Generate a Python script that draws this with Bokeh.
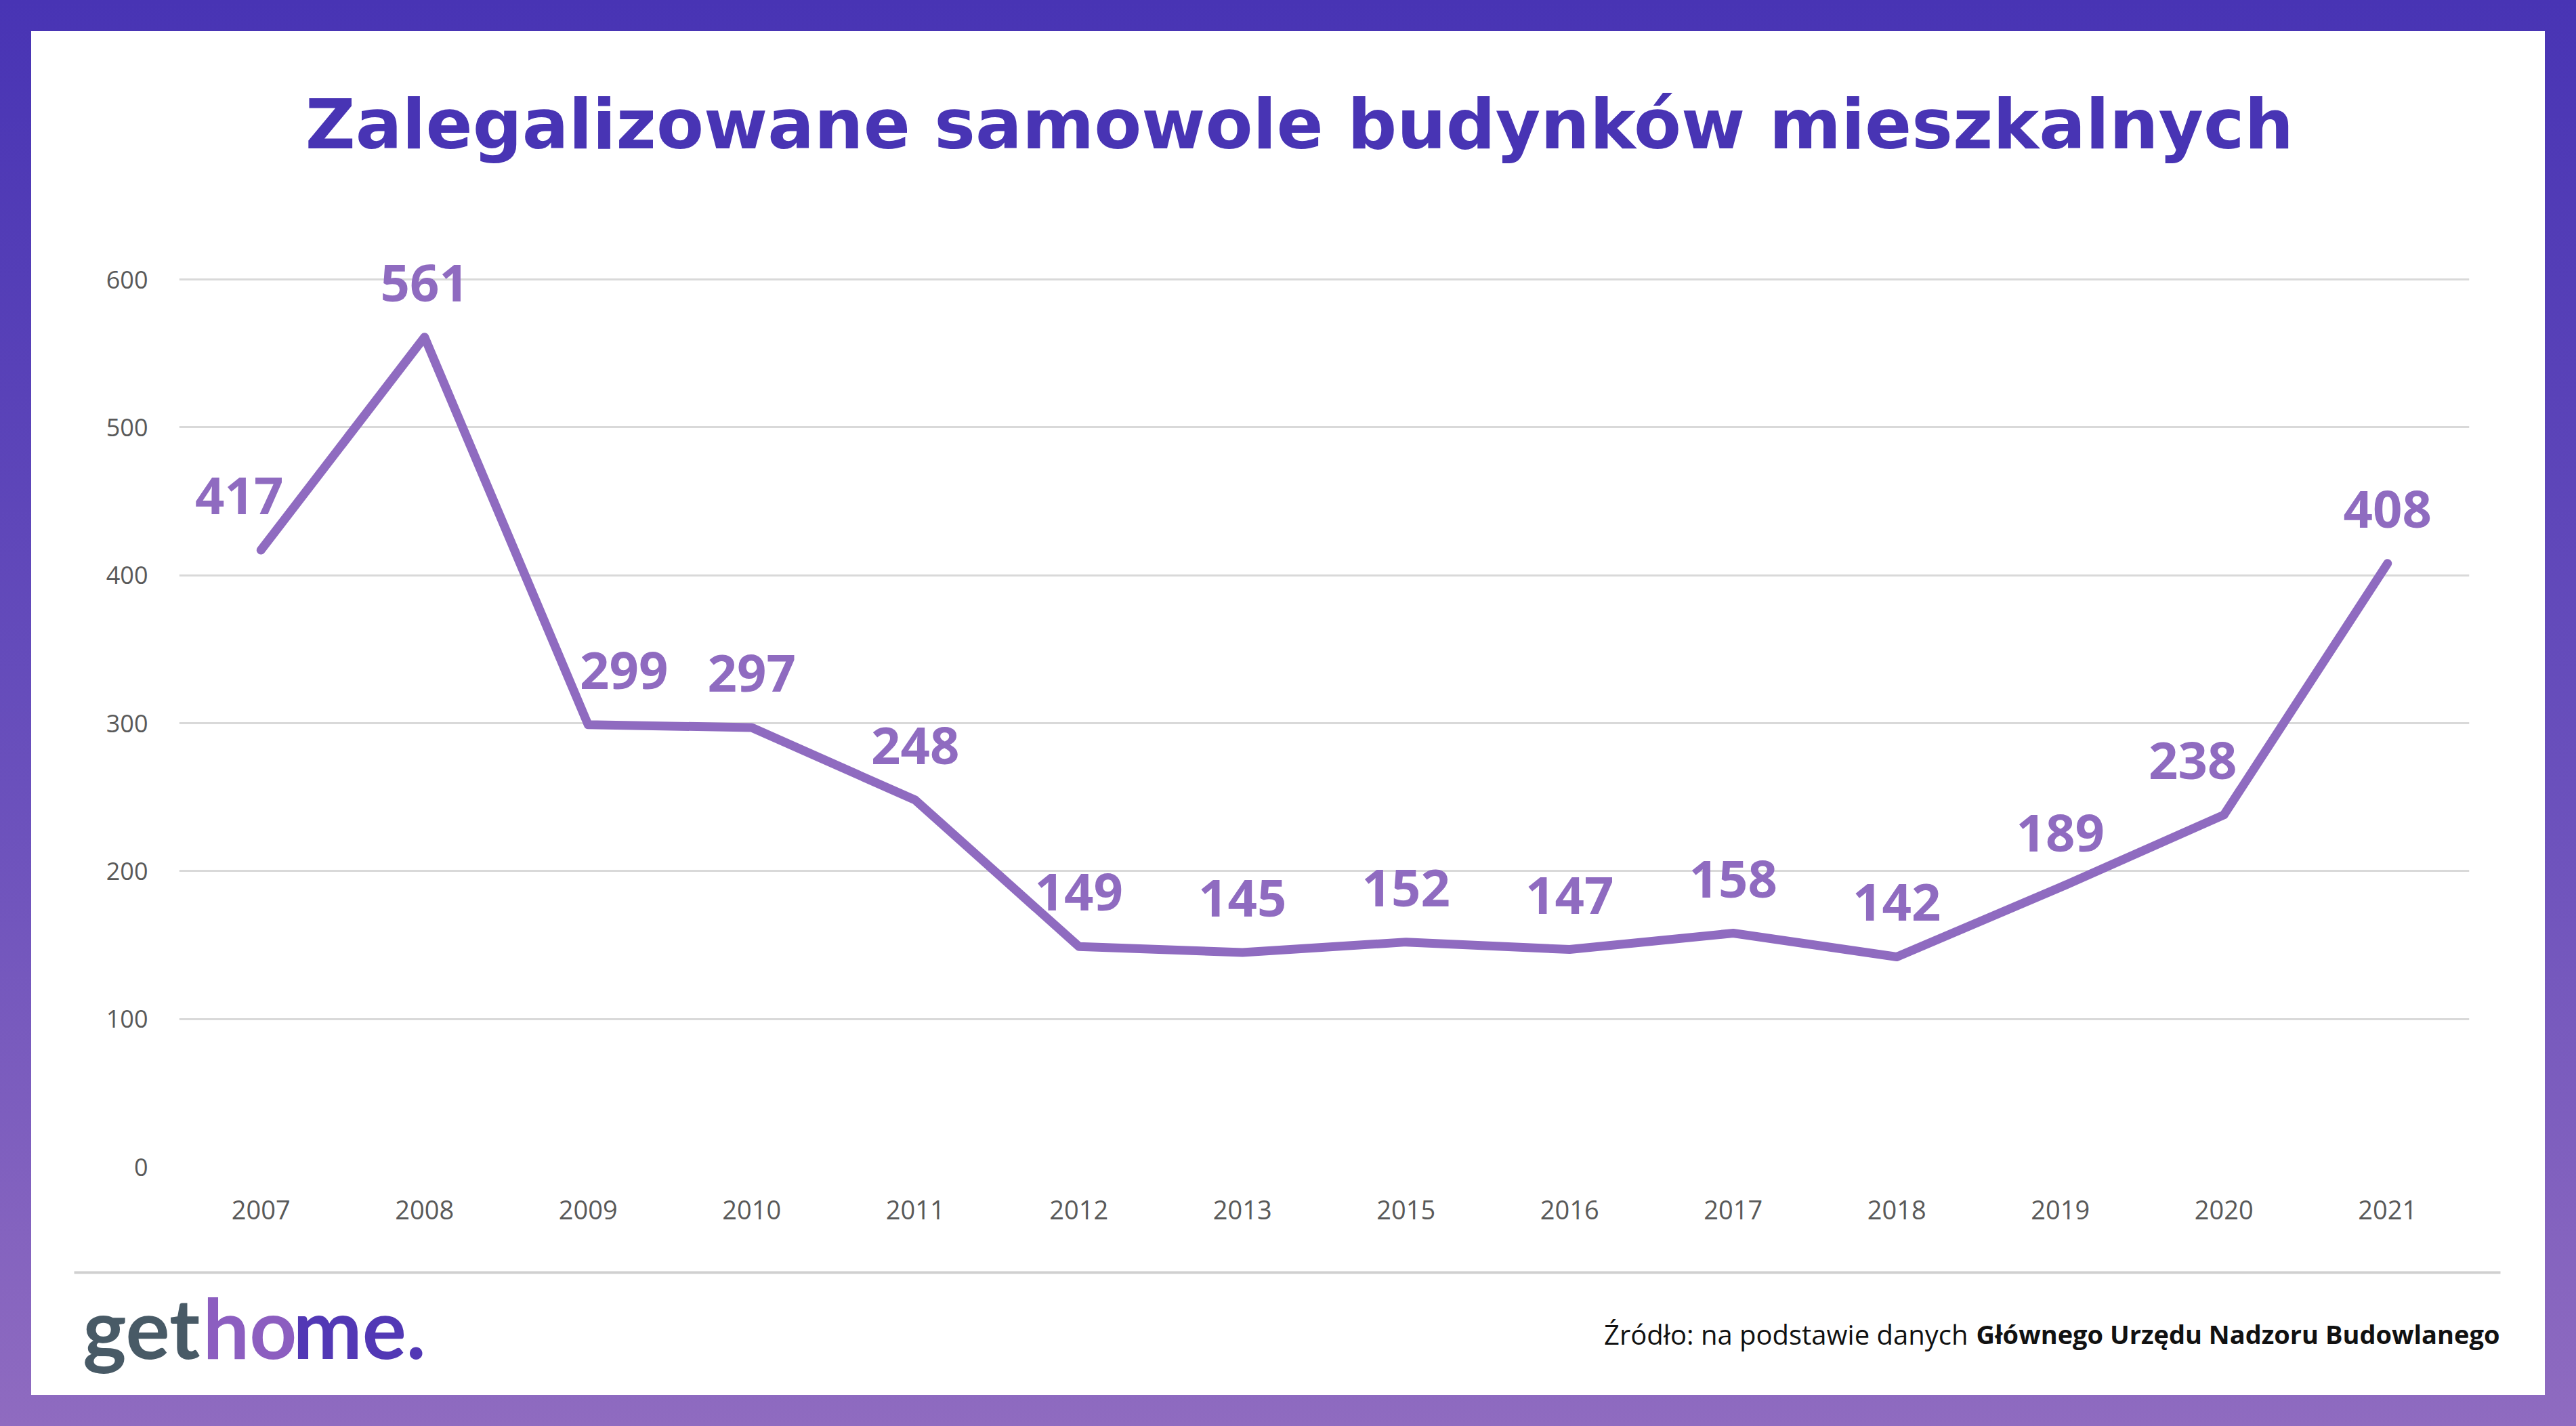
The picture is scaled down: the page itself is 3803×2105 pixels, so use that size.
from bokeh.plotting import figure
from bokeh.models import Label, BoxAnnotation, FixedTicker, ColumnDataSource, Range1d
from bokeh.layouts import column
from bokeh.embed import file_html
from bokeh.resources import INLINE
from bokeh.core.properties import value

# ---- data ----
years = ["2007", "2008", "2009", "2010", "2011", "2012", "2013", "2015",
         "2016", "2017", "2018", "2019", "2020", "2021"]
counts = [417, 561, 299, 297, 248, 149, 145, 152, 147, 158, 142, 189, 238, 408]
y_ticks = [0, 100, 200, 300, 400, 500, 600]
title_text = "Zalegalizowane samowole budynków mieszkalnych"
source_regular = "Źródło: na podstawie danych"
source_bold = "Głównego Urzędu Nadzoru Budowlanego"

# ---- styles ----
PURPLE = "#8f6bc0"
INDIGO = "#4834b4"
GRID = "#d9d9d9"
TICK = "#595959"
W = 3711
OFF = 46                 # page offset of the white area (reference px)
T0, T1 = 46, 282         # title strip (reference y)
M0, M1 = 282, 1850       # chart strip
F0, F1 = 1850, 2059      # footer strip
BASE = 0.36              # label baseline correction (fraction of font size)
label_dx = [-32, 0, 53, 0, 0, 0, 0, 0, 0, 0, 0, 0, -46, 0]


def sx(xr):
    return xr - OFF


def blank_fig(h):
    f = figure(width=W, height=h, output_backend="svg", toolbar_location=None,
               min_border=0, x_range=Range1d(0, 1), y_range=Range1d(0, 1),
               background_fill_color="white", border_fill_color="white",
               outline_line_color=None, frame_align=False,
               styles={"background-color": "white"})
    f.axis.visible = False
    f.grid.visible = False
    return f


# ---- title strip ----
Ht = T1 - T0
pt = blank_fig(Ht)
pt.add_layout(Label(x=sx(1918), y=Ht - (220 - T0) + BASE * 102, x_units="screen", y_units="screen",
                    text=title_text, text_align="center", text_baseline="alphabetic",
                    text_font="DejaVu Sans", text_font_style="bold",
                    text_font_size="102px", text_color=INDIGO))

# ---- chart strip ----
Hm = M1 - M0
frame_h = 1722 - M0
p = figure(width=W, height=Hm, x_range=years, y_range=Range1d(0, frame_h * 600 / 1310),
           output_backend="svg", toolbar_location=None,
           min_border_left=218, min_border_right=112,
           min_border_top=0, min_border_bottom=Hm - frame_h,
           background_fill_color="white", border_fill_color="white",
           outline_line_color=None, frame_align=False,
           styles={"background-color": "white"})
p.x_range.range_padding = 0

src = ColumnDataSource(dict(x=years, y=counts, lab=[str(c) for c in counts], dx=label_dx))

p.line("x", "y", source=src, line_color=PURPLE, line_width=13,
       line_cap="round", line_join="round")
p.text("x", "y", text="lab", source=src, x_offset="dx", y_offset=-80,
       text_align="center", text_baseline="alphabetic",
       text_font=value("Open Sans"), text_font_style="bold",
       text_font_size="76px", text_color=PURPLE)

p.yaxis.ticker = FixedTicker(ticks=y_ticks)
p.yaxis.axis_line_color = None
p.yaxis.major_tick_line_color = None
p.yaxis.minor_tick_line_color = None
p.yaxis.major_label_text_font = "Open Sans"
p.yaxis.major_label_text_font_size = "36px"
p.yaxis.major_label_text_color = TICK
p.yaxis.major_label_standoff = 40

p.xaxis.axis_line_color = None
p.xaxis.major_tick_line_color = None
p.xaxis.major_label_text_font = "Open Sans"
p.xaxis.major_label_text_font_size = "38px"
p.xaxis.major_label_text_color = TICK
p.xaxis.major_label_standoff = 43

p.xgrid.grid_line_color = None
p.ygrid.grid_line_color = GRID
p.ygrid.grid_line_width = 3
p.ygrid.ticker = FixedTicker(ticks=y_ticks)

# ---- footer strip ----
Hf = F1 - F0
pf = blank_fig(Hf)


def fyf(yr, fs):
    return Hf - (yr - F0) + BASE * fs


pf.add_layout(BoxAnnotation(left=sx(109), right=sx(3691), top=Hf - (1876 - F0), bottom=Hf - (1880 - F0),
                            left_units="screen", right_units="screen",
                            top_units="screen", bottom_units="screen",
                            fill_color="#d0d0d0", fill_alpha=1, line_color=None))
pf.add_layout(Label(x=sx(295), y=fyf(2002, 122), x_units="screen", y_units="screen",
                    text="get", text_align="right", text_baseline="alphabetic",
                    text_font="Lato", text_font_style="bold",
                    text_font_size="122px", text_color="#485a66"))
pf.add_layout(Label(x=sx(299), y=fyf(2002, 122), x_units="screen", y_units="screen",
                    text="ho", text_align="left", text_baseline="alphabetic",
                    text_font="Lato", text_font_style="bold",
                    text_font_size="122px", text_color="#8c5ec0"))
pf.add_layout(Label(x=sx(432), y=fyf(2002, 122), x_units="screen", y_units="screen",
                    text="me.", text_align="left", text_baseline="alphabetic",
                    text_font="Lato", text_font_style="bold",
                    text_font_size="122px", text_color="#5238b5"))
pf.add_layout(Label(x=sx(2905), y=fyf(1983, 40), x_units="screen", y_units="screen",
                    text=source_regular, text_align="right", text_baseline="alphabetic",
                    text_font="Open Sans", text_font_size="40px", text_color="#111111"))
pf.add_layout(Label(x=sx(2917), y=fyf(1983, 40), x_units="screen", y_units="screen",
                    text=source_bold, text_align="left", text_baseline="alphabetic",
                    text_font="Open Sans", text_font_style="bold",
                    text_font_size="38px", text_color="#111111"))

layout = column(pt, p, pf, spacing=0,
                styles={"background": "linear-gradient(180deg, #4834b4 0%, #6a50bc 55%, #8f6bc0 100%)",
                        "padding": "46px"})

open("out.html", "w").write(file_html(layout, INLINE))
